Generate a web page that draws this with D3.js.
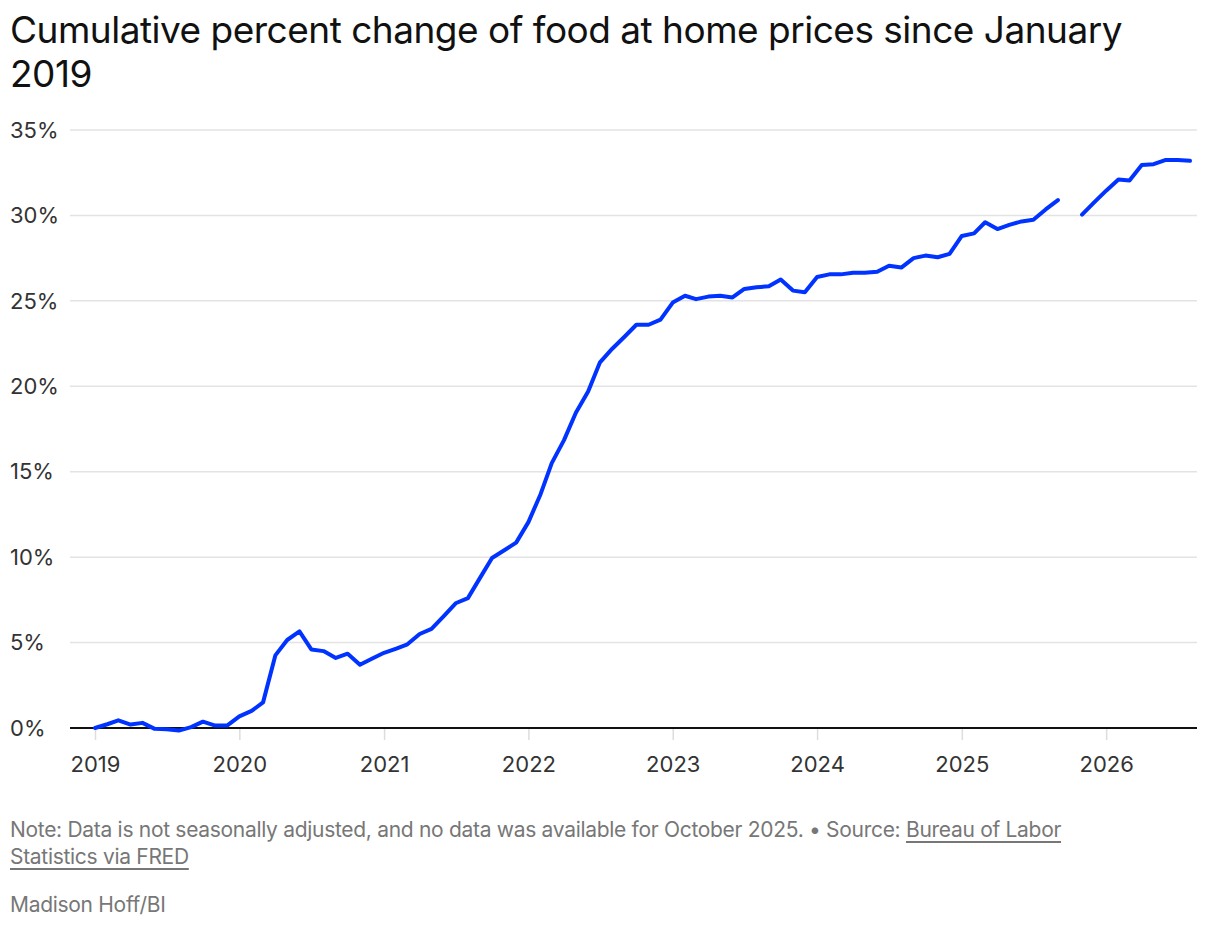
<!DOCTYPE html>
<html>
<head>
<meta charset="utf-8">
<script src="https://cdn.jsdelivr.net/npm/d3@7"></script>
<style>
  body { margin: 0; background: #fff; font-family: Inter, "Noto Sans", sans-serif; }
  .title { position: absolute; left: 10px; top: 8px; width: 1150px; font-size: 37px; line-height: 44px; color: #111; letter-spacing: -0.5px; }
  .note { position: absolute; left: 10px; top: 816px; width: 1130px; font-size: 21px; line-height: 27px; color: #777; letter-spacing: -0.3px; }
  .note a { color: #777; text-decoration: underline; text-underline-offset: 4px; }
  .credit { position: absolute; left: 10px; top: 892px; font-size: 21px; color: #777; letter-spacing: -0.3px; }
</style>
</head>
<body>
<div class="title">Cumulative percent change of food at home prices since January 2019</div>
<svg id="chart" width="1220" height="800" style="position:absolute;left:0;top:0"></svg>
<div class="note">Note: Data is not seasonally adjusted, and no data was available for October 2025. • Source: <a>Bureau of Labor Statistics via FRED</a></div>
<div class="credit">Madison Hoff/BI</div>
<script>
const startMonth = new Date(2019, 0, 1);
// monthly cumulative % change, null = missing month (Oct 2025)
const values = [
  0, 0.22, 0.45, 0.2, 0.3, -0.05, -0.07, -0.15, 0.05, 0.37, 0.14, 0.14,
  0.68, 1.0, 1.5, 4.25, 5.15, 5.65, 4.6, 4.5, 4.1, 4.35, 3.7, 4.05,
  4.4, 4.65, 4.9, 5.5, 5.8, 6.55, 7.3, 7.6, 8.8, 9.95, 10.4, 10.85,
  12.05, 13.7, 15.5, 16.85, 18.45, 19.7, 21.4, 22.2, 22.9, 23.6, 23.6, 23.9,
  24.9, 25.3, 25.1, 25.25, 25.3, 25.2, 25.7, 25.8, 25.85, 26.25, 25.6, 25.5,
  26.4, 26.55, 26.55, 26.65, 26.65, 26.7, 27.05, 26.95, 27.5, 27.65, 27.55, 27.75,
  28.8, 28.95, 29.6, 29.2, 29.45, 29.65, 29.75, 30.35, 30.9, null, 30.05, 30.75,
  31.45, 32.1, 32.05, 32.95, 33.0, 33.25, 33.25, 33.2
];
const yTicks = [0, 5, 10, 15, 20, 25, 30, 35];
const xTickYears = [2019, 2020, 2021, 2022, 2023, 2024, 2025, 2026];

const data = values.map((v, i) => ({ date: d3.timeMonth.offset(startMonth, i), v }));

const svg = d3.select("#chart");
const x = d3.scaleTime()
  .domain([startMonth, d3.timeMonth.offset(startMonth, values.length - 1)])
  .range([95, 1190]);
const y = d3.scaleLinear().domain([0, 35]).range([728, 130]);

// grid + y labels
const yg = svg.append("g");
yg.selectAll("line").data(yTicks.filter(d => d > 0)).join("line")
  .attr("x1", 70).attr("x2", 1197)
  .attr("y1", d => y(d)).attr("y2", d => y(d))
  .attr("stroke", "#e3e3e3").attr("stroke-width", 1.5);
yg.selectAll("text").data(yTicks).join("text")
  .attr("x", 10).attr("y", d => y(d)).attr("dy", "0.35em")
  .attr("font-size", 22).attr("fill", "#333")
  .text(d => d + "%");

// x axis
const xAxis = d3.axisBottom(x)
  .tickValues(xTickYears.map(yr => new Date(yr, 0, 1)))
  .tickFormat(d3.timeFormat("%Y"))
  .tickSize(12).tickPadding(16);
const xg = svg.append("g").attr("transform", "translate(0,728)").call(xAxis);
xg.select(".domain").remove();
xg.selectAll(".tick line").attr("stroke", "#ddd").attr("stroke-width", 1.5);
xg.selectAll(".tick text").attr("font-size", 22).attr("fill", "#333")
  .attr("font-family", "Inter, 'Noto Sans', sans-serif");

svg.append("line").attr("x1", 70).attr("x2", 1197)
  .attr("y1", y(0)).attr("y2", y(0)).attr("stroke", "#111").attr("stroke-width", 2);

const line = d3.line()
  .defined(d => d.v !== null)
  .x(d => x(d.date)).y(d => y(d.v));
svg.append("path").datum(data)
  .attr("d", line).attr("fill", "none")
  .attr("stroke", "#0033ff").attr("stroke-width", 4)
  .attr("stroke-linejoin", "round").attr("stroke-linecap", "round");
</script>
</body>
</html>
